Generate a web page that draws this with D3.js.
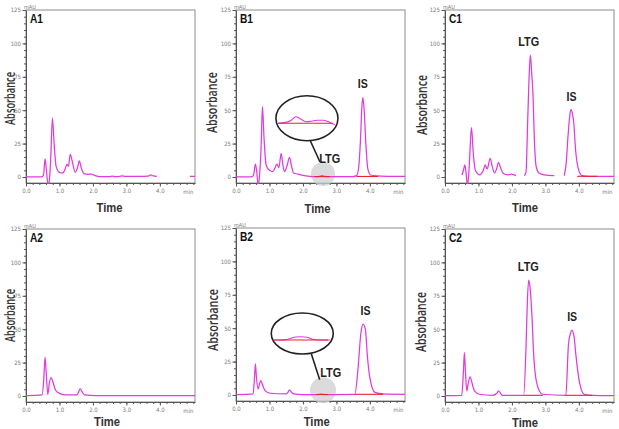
<!DOCTYPE html>
<html><head><meta charset="utf-8">
<script src="https://cdn.jsdelivr.net/npm/d3@7"></script>
<style>body{margin:0;background:#fff}svg{display:block}</style>
</head><body><svg id="c" width="619" height="429"></svg>
<script>
// ---------- DATA ----------
const timeTicks = [0, 1, 2, 3, 4];
const absTicks = [0, 25, 50, 75, 100, 125];
const panelNames = ["A1", "B1", "C1", "A2", "B2", "C2"];

const a1Time = [0, 0.45, 0.52, 0.57, 0.61, 0.66, 0.70, 0.74, 0.79, 0.84, 0.90, 1.0, 1.1, 1.17, 1.22, 1.27, 1.32, 1.38, 1.47, 1.54, 1.59, 1.65, 1.73, 1.85, 1.95, 2.05, 2.2, 2.5, 2.58, 2.66, 2.8, 2.88, 2.96, 3.3, 3.65, 3.73, 3.8, 3.91, null, 4.9, 5.05];
const a1Abs  = [0, 0, 1, 13.5, 5, -6, -2, 15, 44, 25, 8, 3.5, 3, 6, 9.5, 8, 17, 12, 3.5, 7, 12, 7, 2.5, 2, 2.2, 1.2, 0.3, 0.3, 0.7, 0.3, 0.5, 0.8, 0.5, 0.4, 0.6, 1.5, 0.8, 0.5, null, 0.5, 0.5];

const b1Time = [0, 0.45, 0.52, 0.58, 0.62, 0.66, 0.70, 0.75, 0.79, 0.84, 0.90, 1.0, 1.1, 1.17, 1.22, 1.28, 1.35, 1.40, 1.45, 1.52, 1.60, 1.66, 1.72, 1.85, 2.0, 2.2, 2.4, 2.5, 2.57, 2.65, 2.8, 3.2, 3.5, 3.6, 3.66, 3.72, 3.76, 3.79, 3.83, 3.88, 3.94, 4.02, 4.2, 4.5, 5.05];
const b1Abs  = [0, 0, 1, 9.7, 4, -6, 0, 22, 52.6, 28, 9, 5, 4, 7, 9.7, 7, 17.7, 9, 4, 8, 14.7, 8, 3, 2.2, 1.2, 0.5, 0.2, 0.5, 1, 0.5, 0.2, 0.2, 0.3, 1, 6, 28, 52, 59.6, 50, 25, 6, 1.5, 0.8, 0.5, 0.5];

const c1Time = [0.51, 0.56, 0.59, 0.63, 0.67, 0.71, 0.74, 0.79, 0.85, 0.91, 1.04, 1.14, 1.2, 1.26, 1.35, 1.41, 1.48, 1.54, 1.6, 1.66, 1.73, 1.88, 1.98, 2.12, null, 2.37, 2.42, 2.47, 2.51, 2.55, 2.59, 2.63, 2.67, 2.72, 2.81, 2.96, 3.26, null, 3.56, 3.62, 3.67, 3.72, 3.76, 3.81, 3.85, 3.9, 4.0, 4.1, 4.3, 5.05];
const c1Abs  = [1.5, 6, 9, 3, -6, 2, 16, 37, 16, 4.8, 1.5, 4.8, 9, 6, 14, 8, 3, 6, 11, 7, 3, 1.5, 2.2, 1, null, 1, 3.5, 41, 73, 91.3, 78.3, 60.9, 28.4, 8.4, 2.9, 1.5, 1, null, 1, 10, 28.4, 44, 50.4, 47, 40, 21, 4.8, 1, 0.5, 0.5];

const a2Time = [0, 0.48, 0.53, 0.57, 0.61, 0.65, 0.70, 0.75, 0.80, 0.88, 1.0, 1.2, 1.52, 1.57, 1.62, 1.68, 1.75, 2.1, 5.05];
const a2Abs  = [0.3, 0.8, 12, 29, 15, 1, 10, 13.8, 10.8, 4.5, 2, 0.8, 0.8, 3, 5.3, 3, 0.8, 0.3, 0.3];

const b2Time = [0, 0.51, 0.55, 0.58, 0.61, 0.66, 0.70, 0.74, 0.80, 0.87, 1.02, 1.5, 1.55, 1.6, 1.66, 1.72, 2.02, 2.45, 2.55, 2.65, 3.55, 3.65, 3.73, 3.8, 3.87, 3.92, 4.0, 4.15, 4.4, 5.05];
const b2Abs  = [0.3, 0.8, 12, 23.3, 13.3, 4.5, 8, 10.8, 7, 3.3, 1.3, 0.8, 2, 3.8, 2, 0.8, 0.3, 0.3, 0.6, 0.3, 0.5, 20.8, 46, 53, 48.5, 31, 13, 2, 0.8, 0.5];

const c2Time = [0, 0.5, 0.55, 0.58, 0.61, 0.65, 0.69, 0.75, 0.83, 0.88, 1.03, 1.43, 1.55, 1.6, 1.66, 1.72, 2.35, 2.42, 2.46, 2.5, 2.54, 2.6, 2.65, 2.7, 2.82, 2.92, 3.61, 3.69, 3.75, 3.79, 3.86, 3.91, 4.03, 4.16, 4.41, 5.05];
const c2Abs  = [0.3, 0.5, 18, 32.5, 18.8, 3.8, 8.8, 14.3, 7.5, 3.8, 1.3, 0.5, 2, 3.8, 2, 0.5, 0.5, 36, 70, 86.8, 81.5, 59, 31, 16, 3.8, 1.3, 0.5, 38.8, 47, 49.3, 43.8, 31, 8.8, 1.3, 0.5, 0.3];

// integration baselines (red)
const b1RedStart = [2.35, 3.6],  b1RedEnd = [2.8, 4.25],  b1RedAbs = [0.3, 0.4];
const b2RedStart = [2.4, 3.55],  b2RedEnd = [2.75, 4.4],  b2RedAbs = [0.4, 0.5];
const c1RedStart = [3.95],       c1RedEnd = [4.55],       c1RedAbs = [0.5];
const c2RedStart = [2.35, 3.6],  c2RedEnd = [2.92, 4.4],  c2RedAbs = [0.5, 0.5];

// peak labels
const b1LabelText = ["IS"],        b1LabelTime = [3.79],       b1LabelAbs = [59.6];
const c1LabelText = ["LTG", "IS"], c1LabelTime = [2.5, 3.78],  c1LabelAbs = [91.3, 50.4];
const b2LabelText = ["IS"],        b2LabelTime = [3.87],       b2LabelAbs = [53];
const c2LabelText = ["LTG", "IS"], c2LabelTime = [2.49, 3.8],  c2LabelAbs = [86.8, 49.3];

// LTG magnified insets (B panels)
const insetTime = [2.35, 2.42, 2.47, 2.51, 2.55, 2.6, 2.65, 2.70, 2.76, 2.82, 2.86];
const b1InsetAbs = [0, 0.08, 0.3, 0.65, 0.45, 0.15, 0.2, 0.3, 0.3, 0.05, -0.15];
const b2InsetAbs = [0, 0, 0.05, 0.18, 0.3, 0.33, 0.28, 0.08, 0, 0, 0];
const ltgMarkTime = [2.6, 2.6], ltgMarkAbs = [2.2, 3.5];          // grey spot (B1, B2)
const ellipseTime = [2.12, 1.98], ellipseAbs = [44, 46];          // inset centres
const leaderTime = [[2.21, 2.51], [2.25, 2.5]], leaderAbs = [[27.7, 11.2], [30.9, 11.5]];
const ltgCalloutTime = [2.8, 2.83], ltgCalloutAbs = [10.5, 13.5];

// ---------- LAYOUT ----------
const BOX_W = 169, BOX_H = 173;
const panels = [
  {name: panelNames[0], time: a1Time, abs: a1Abs, left: 26,  top: 10,  absX: 15,  absY: 98.5, absLen: 53, timeX: 109.5, timeY: 212},
  {name: panelNames[1], time: b1Time, abs: b1Abs, left: 236, top: 10,  absX: 217, absY: 102.5, absLen: 61, timeX: 317.5, timeY: 213,
   red: [b1RedStart, b1RedEnd, b1RedAbs], labels: [b1LabelText, b1LabelTime, b1LabelAbs], inset: 0, insetAbs: b1InsetAbs, ry: 22.5, mR: 12, insetOff: 5},
  {name: panelNames[2], time: c1Time, abs: c1Abs, left: 445, top: 10,  absX: 427, absY: 105, absLen: 60, timeX: 525, timeY: 212,
   red: [c1RedStart, c1RedEnd, c1RedAbs], labels: [c1LabelText, c1LabelTime, c1LabelAbs]},
  {name: panelNames[3], time: a2Time, abs: a2Abs, left: 26,  top: 229, absX: 15,  absY: 315.5, absLen: 53, timeX: 107, timeY: 426},
  {name: panelNames[4], time: b2Time, abs: b2Abs, left: 236, top: 228, absX: 218, absY: 320, absLen: 62, timeX: 316.7, timeY: 426,
   red: [b2RedStart, b2RedEnd, b2RedAbs], labels: [b2LabelText, b2LabelTime, b2LabelAbs], inset: 1, insetAbs: b2InsetAbs, ry: 20.5, mR: 13, insetOff: 6.5},
  {name: panelNames[5], time: c2Time, abs: c2Abs, left: 445, top: 229, absX: 426, absY: 322, absLen: 60, timeX: 525, timeY: 426.5,
   red: [c2RedStart, c2RedEnd, c2RedAbs], labels: [c2LabelText, c2LabelTime, c2LabelAbs]}
];

const TRACE = "#e03ae0", RED = "#e8222e", INK = "#222";
const TITLE_FONT = "'Open Sans', 'Liberation Sans', Arial, sans-serif";
const svg = d3.select("#c");
const defs = svg.append("defs");

panels.forEach((p, i) => {
  const x = d3.scaleLinear().domain([0, 5.05]).range([p.left, p.left + BOX_W]);
  const y = d3.scaleLinear().domain([-4.5, 125]).range([p.top + BOX_H, p.top]);
  const g = svg.append("g");

  defs.append("clipPath").attr("id", "clip" + i).append("rect")
    .attr("x", p.left).attr("y", p.top).attr("width", BOX_W).attr("height", BOX_H + 1);

  g.append("rect").attr("x", p.left).attr("y", p.top).attr("width", BOX_W).attr("height", BOX_H)
    .attr("fill", "none").attr("stroke", "#8c8c8c").attr("stroke-width", 1);

  const tickFont = sel => sel.selectAll("text").attr("font-size", 6).attr("fill", "#7a7a7a")
    .attr("font-family", "'DejaVu Sans Condensed', 'Liberation Sans Narrow', sans-serif");

  // y axis
  g.append("g").attr("transform", `translate(${p.left},0)`)
    .call(d3.axisLeft(y).tickValues(d3.range(0, 126, 5)).tickSize(2).tickSizeOuter(0).tickFormat(""))
    .call(a => a.select(".domain").remove())
    .call(a => a.selectAll("line").attr("stroke", "#555"));
  g.append("g").attr("transform", `translate(${p.left},0)`)
    .call(d3.axisLeft(y).tickValues(absTicks).tickSize(3.5).tickSizeOuter(0).tickPadding(1.5).tickFormat(d3.format("d")))
    .call(a => a.select(".domain").attr("stroke", "#555"))
    .call(a => a.selectAll("line").attr("stroke", "#555"))
    .call(tickFont);
  // x axis
  g.append("g").attr("transform", `translate(0,${p.top + BOX_H})`)
    .call(d3.axisBottom(x).tickValues(d3.range(0, 5.01, 0.2)).tickSize(2).tickSizeOuter(0).tickFormat(""))
    .call(a => a.select(".domain").remove())
    .call(a => a.selectAll("line").attr("stroke", "#555"));
  g.append("g").attr("transform", `translate(0,${p.top + BOX_H})`)
    .call(d3.axisBottom(x).tickValues(timeTicks).tickSize(3.5).tickSizeOuter(0).tickPadding(2).tickFormat(d3.format(".1f")))
    .call(a => a.select(".domain").attr("stroke", "#555"))
    .call(a => a.selectAll("line").attr("stroke", "#555"))
    .call(tickFont);

  g.append("text").attr("x", x(4.85)).attr("y", p.top + BOX_H + 10.5).attr("text-anchor", "middle")
    .attr("font-size", 6).attr("fill", "#7a7a7a").attr("font-family", "'DejaVu Sans Condensed', sans-serif").text("min");
  g.append("text").attr("x", p.left - 2).attr("y", p.top - 1)
    .attr("font-size", 5.5).attr("fill", "#7a7a7a").attr("font-family", "'DejaVu Sans Condensed', sans-serif").text("mAU");

  // grey spot (under trace)
  if (p.inset !== undefined) {
    const k = p.inset;
    g.append("circle").attr("cx", x(ltgMarkTime[k])).attr("cy", y(ltgMarkAbs[k])).attr("r", p.mR)
      .attr("fill", "#cfcfcf").attr("opacity", 0.75);
  }

  // trace
  const pts = p.time.map((t, j) => ({t: t, v: p.abs[j]}));
  const line = d3.line().defined(d => d.t !== null && d.v !== null)
    .x(d => x(d.t)).y(d => y(d.v)).curve(d3.curveMonotoneX);
  g.append("path").datum(pts).attr("d", line).attr("clip-path", `url(#clip${i})`)
    .attr("fill", "none").attr("stroke", TRACE).attr("stroke-width", 1.25).attr("stroke-linejoin", "round");

  // red baselines
  if (p.red) {
    p.red[0].forEach((s, j) => {
      g.append("line").attr("x1", x(s)).attr("x2", x(p.red[1][j]))
        .attr("y1", y(p.red[2][j])).attr("y2", y(p.red[2][j]))
        .attr("stroke", RED).attr("stroke-width", 1.1);
    });
  }

  // peak labels
  if (p.labels) {
    p.labels[0].forEach((txt, j) => {
      g.append("text").attr("x", x(p.labels[1][j])).attr("y", y(p.labels[2][j]) - 9)
        .attr("text-anchor", "middle").attr("font-size", 13).attr("font-weight", "bold")
        .attr("font-family", "'Liberation Sans', Arial, sans-serif").attr("fill", INK)
        .attr("textLength", txt === "IS" ? 10 : 21).attr("lengthAdjust", "spacingAndGlyphs").text(txt);
    });
  }

  // inset ellipse for LTG
  if (p.inset !== undefined) {
    const k = p.inset;
    const cx = x(ellipseTime[k]), cy = y(ellipseAbs[k]);
    g.append("line").attr("x1", x(leaderTime[k][0])).attr("y1", y(leaderAbs[k][0]))
      .attr("x2", x(leaderTime[k][1])).attr("y2", y(leaderAbs[k][1]))
      .attr("stroke", INK).attr("stroke-width", 1.6);
    g.append("ellipse").attr("cx", cx).attr("cy", cy).attr("rx", 31).attr("ry", p.ry)
      .attr("fill", "#fff").attr("stroke", INK).attr("stroke-width", 1.6);
    const ix = d3.scaleLinear().domain([2.35, 2.86]).range([cx - 29, cx + 28]);
    const iy = d3.scaleLinear().domain([0, 1]).range([cy + p.insetOff, cy + p.insetOff - 10]);
    const ipts = insetTime.map((t, j) => ({t: t, v: p.insetAbs[j]}));
    g.append("path").datum(ipts)
      .attr("d", d3.line().x(d => ix(d.t)).y(d => iy(d.v)).curve(d3.curveMonotoneX))
      .attr("fill", "none").attr("stroke", TRACE).attr("stroke-width", 1.1);
    g.append("line").attr("x1", ix(2.35)).attr("x2", ix(2.84)).attr("y1", iy(0)).attr("y2", iy(0))
      .attr("stroke", RED).attr("stroke-width", 1.1);
    g.append("text").attr("x", x(ltgCalloutTime[k])).attr("y", y(ltgCalloutAbs[k]))
      .attr("text-anchor", "middle").attr("font-size", 13).attr("font-weight", "bold")
      .attr("font-family", "'Liberation Sans', Arial, sans-serif").attr("fill", INK)
      .attr("textLength", 21).attr("lengthAdjust", "spacingAndGlyphs").text("LTG");
  }

  // panel label
  g.append("text").attr("x", p.left + 4).attr("y", p.top + 12.5)
    .attr("font-size", 12).attr("font-weight", "bold").attr("fill", "#111")
    .attr("font-family", "'Liberation Sans', Arial, sans-serif")
    .attr("textLength", 13).attr("lengthAdjust", "spacingAndGlyphs").text(p.name);

  // axis titles
  g.append("text").attr("transform", `translate(${p.absX},${p.absY}) rotate(-90)`)
    .attr("text-anchor", "middle").attr("font-size", 14).attr("font-weight", 600).attr("fill", "#333")
    .attr("font-family", TITLE_FONT)
    .attr("textLength", p.absLen).attr("lengthAdjust", "spacingAndGlyphs").text("Absorbance");
  g.append("text").attr("x", p.timeX).attr("y", p.timeY)
    .attr("text-anchor", "middle").attr("font-size", 13.5).attr("font-weight", "bold").attr("fill", "#333")
    .attr("font-family", "'Liberation Sans', Arial, sans-serif")
    .attr("textLength", 26).attr("lengthAdjust", "spacingAndGlyphs").text("Time");
});
</script>
</body></html>
